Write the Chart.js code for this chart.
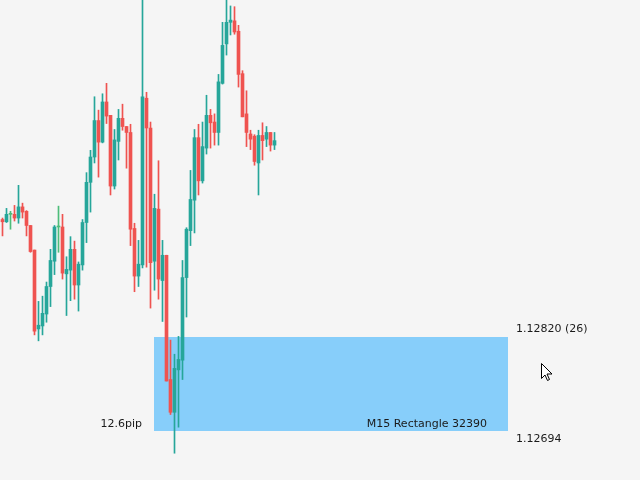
<!DOCTYPE html>
<html>
<head>
<meta charset="utf-8">
<script src="https://cdn.jsdelivr.net/npm/chart.js@4.4.1/dist/chart.umd.min.js"></script>
<style>
  html, body { margin: 0; padding: 0; background: #f5f5f5; }
  #wrap { width: 640px; height: 480px; }
</style>
</head>
<body>
<div id="wrap"><canvas id="myChart"></canvas></div>
<script>
// M15 candles, oldest first
var open  = [1.12978,1.12975,1.12985,1.12985,1.12980,1.12995,1.12989,1.12970,1.12937,1.12831,
             1.12835,1.12851,1.12888,1.12922,1.12968,1.12968,1.12905,1.12910,1.12938,1.12890,
             1.12917,1.12974,1.13028,1.13062,1.13111,1.13082,1.13136,1.13118,1.13023,1.13083,
             1.13114,1.13103,1.13095,1.12966,1.12902,1.12917,1.13141,1.13101,1.12922,1.12992,
             1.12896,1.12930,1.12763,1.12719,1.12776,1.12789,1.12900,1.12963,1.13004,1.13088,
             1.13030,1.13074,1.13118,1.13109,1.13095,1.13161,1.13214,1.13243,1.13245,1.13231,
             1.13174,1.13120,1.13093,1.13090,1.13054,1.13091,1.13086,1.13095,1.13078];
var high  = [1.12980,1.12993,1.12989,1.12997,1.13024,1.13000,1.12990,1.12970,1.12937,1.12868,
             1.12875,1.12894,1.12938,1.12970,1.12996,1.12985,1.12928,1.12955,1.12949,1.12921,
             1.12978,1.13041,1.13071,1.13143,1.13125,1.13147,1.13161,1.13118,1.13099,1.13126,
             1.13133,1.13103,1.13106,1.12973,1.12950,1.13290,1.13149,1.13109,1.13012,1.13057,
             1.12950,1.12930,1.12816,1.12797,1.12821,1.12923,1.12967,1.13044,1.13099,1.13106,
             1.13109,1.13145,1.13126,1.13120,1.13173,1.13243,1.13290,1.13265,1.13264,1.13239,
             1.13178,1.13151,1.13098,1.13092,1.13098,1.13108,1.13103,1.13095,1.13095];
var low   = [1.12956,1.12974,1.12965,1.12976,1.12973,1.12980,1.12956,1.12934,1.12823,1.12815,
             1.12823,1.12840,1.12861,1.12904,1.12934,1.12898,1.12849,1.12869,1.12871,1.12855,
             1.12910,1.12947,1.12988,1.13054,1.13035,1.13081,1.13107,1.13011,1.13019,1.13058,
             1.13098,1.13047,1.12943,1.12881,1.12888,1.12913,1.12914,1.12859,1.12883,1.12871,
             1.12841,1.12761,1.12716,1.12664,1.12699,1.12763,1.12847,1.12943,1.12960,1.13011,
             1.13027,1.13066,1.13074,1.13078,1.13078,1.13160,1.13199,1.13226,1.13227,1.13156,
             1.13116,1.13076,1.13072,1.13051,1.13011,1.13058,1.13076,1.13070,1.13072];
var close = [1.12975,1.12985,1.12985,1.12980,1.12995,1.12988,1.12970,1.12935,1.12828,1.12836,
             1.12852,1.12888,1.12923,1.12968,1.12968,1.12906,1.12911,1.12938,1.12890,1.12918,
             1.12974,1.13028,1.13062,1.13111,1.13082,1.13136,1.13117,1.13023,1.13085,1.13114,
             1.13103,1.13095,1.12965,1.12902,1.12918,1.13143,1.13101,1.12920,1.12993,1.12898,
             1.12930,1.12761,1.12719,1.12778,1.12790,1.12900,1.12965,1.13005,1.13088,1.13030,
             1.13076,1.13118,1.13108,1.13095,1.13163,1.13212,1.13243,1.13246,1.13230,1.13173,
             1.13116,1.13095,1.13086,1.13056,1.13091,1.13084,1.13095,1.13078,1.13084];

// rectangle object: from candle 37.9 to 126.4 (bar index), prices
var rectFrom = 37.9, rectTo = 126.4;
var rectTop = 1.12820, rectBottom = 1.12694;
var rectName = "M15 Rectangle 32390";
var rectPips = "12.6pip";
var rectTopLabel = "1.12820 (26)";
var rectBottomLabel = "1.12694";

var upColor = "#26a69a", downColor = "#ef5350", dojiColor = "#4dbd7a";

var bodies = [], wicks = [], colors = [];
for (var i = 0; i < open.length; i++) {
    bodies.push({x: i, y: [open[i], close[i]]});
    wicks.push({x: i, y: [low[i], high[i]]});
    if (close[i] > open[i]) colors.push(upColor);
    else if (close[i] < open[i]) colors.push(downColor);
    else colors.push(dojiColor);
}

var rectPlugin = {
    id: "rect",
    beforeDatasetsDraw: function(chart) {
        var ctx = chart.ctx, xs = chart.scales.x, ys = chart.scales.y;
        var x1 = Math.round(xs.getPixelForValue(rectFrom));
        var x2 = Math.round(xs.getPixelForValue(rectTo));
        var y1 = Math.round(ys.getPixelForValue(rectTop));
        var y2 = Math.round(ys.getPixelForValue(rectBottom));
        ctx.save();
        ctx.fillStyle = "#87cefa";
        ctx.fillRect(x1, y1, x2 - x1, y2 - y1);
        ctx.restore();
    },
    afterDraw: function(chart) {
        var ctx = chart.ctx, xs = chart.scales.x, ys = chart.scales.y;
        var x1 = Math.round(xs.getPixelForValue(rectFrom));
        var x2 = Math.round(xs.getPixelForValue(rectTo));
        var y1 = Math.round(ys.getPixelForValue(rectTop));
        var y2 = Math.round(ys.getPixelForValue(rectBottom));
        ctx.save();
        ctx.font = "11px 'DejaVu Sans'";
        ctx.fillStyle = "#1a1a1a";
        ctx.textBaseline = "middle";
        ctx.textAlign = "left";
        ctx.fillText(rectTopLabel, x2 + 8, y1 - 8);
        ctx.fillText(rectBottomLabel, x2 + 8, y2 + 8);
        ctx.textAlign = "right";
        ctx.fillText(rectPips, x1 - 12, y2 - 7);
        ctx.fillText(rectName, x2 - 21, y2 - 7);

        // mouse pointer
        var px = x2 + 33.5, py = y1 + 26.5;
        ctx.beginPath();
        ctx.moveTo(px, py);
        ctx.lineTo(px, py + 15);
        ctx.lineTo(px + 3.5, py + 11.5);
        ctx.lineTo(px + 6, py + 17);
        ctx.lineTo(px + 8, py + 16);
        ctx.lineTo(px + 5.5, py + 10.5);
        ctx.lineTo(px + 10.5, py + 10.5);
        ctx.closePath();
        ctx.fillStyle = "#ffffff";
        ctx.fill();
        ctx.strokeStyle = "#000000";
        ctx.lineWidth = 1;
        ctx.stroke();
        ctx.restore();
    }
};

var canvas = document.getElementById("myChart");
var ctx = canvas.getContext("2d");

var myChart = new Chart(ctx, {
    type: "bar",
    data: {
        datasets: [{
            data: bodies,
            backgroundColor: colors,
            barThickness: 3,
            minBarLength: 1,
            grouped: false,
            order: 1
        }, {
            data: wicks,
            backgroundColor: colors,
            barThickness: 1,
            grouped: false,
            order: 2
        }]
    },
    options: {
        responsive: true,
        maintainAspectRatio: false,
        animation: false,
        layout: { padding: 0 },
        plugins: { legend: { display: false }, tooltip: { enabled: false } },
        scales: {
            x: { type: "linear", min: -0.625, max: 159.375, offset: false, display: false },
            y: { min: 1.12628, max: 1.13273, display: false }
        }
    },
    plugins: [rectPlugin]
});
</script>
</body>
</html>
